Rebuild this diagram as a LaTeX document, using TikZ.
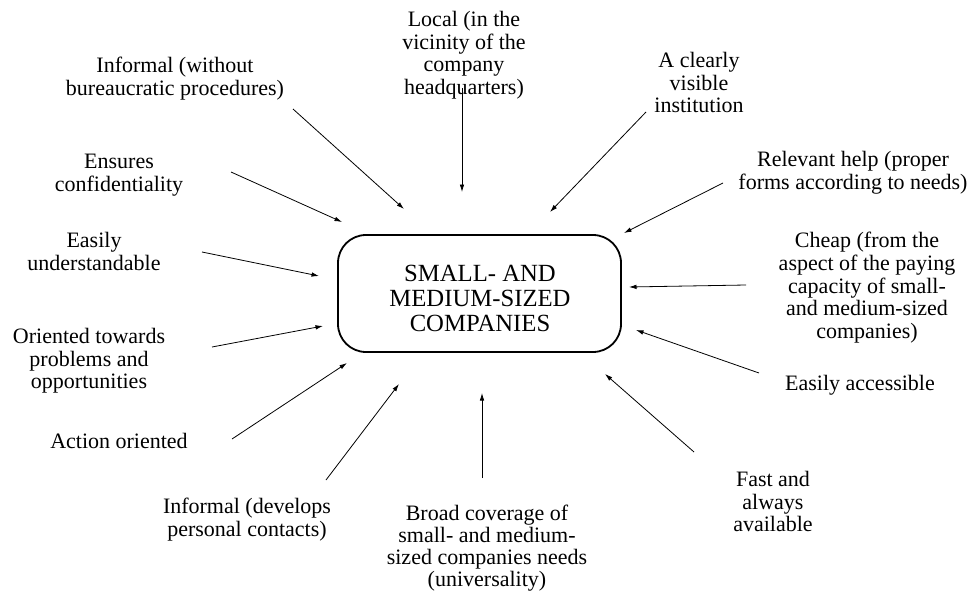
\documentclass[tikz,border=0pt]{standalone}
\usepackage{fontspec}
\setmainfont{Liberation Serif}
\usetikzlibrary{arrows.meta}

\tikzset{
  lbl/.style={font=\fontsize{22}{22.7}\selectfont, align=center, inner sep=0pt,
              anchor=north, execute at begin node=\strut},
  hub/.style={draw, line width=1.8pt, rounded corners=28pt, minimum width=283pt,
              minimum height=117pt, inner sep=0pt},
  hubtext/.style={font=\fontsize{24.7}{25}\selectfont, align=center, inner sep=0pt,
                  anchor=north, execute at begin node=\strut},
  feed/.style={line width=0.8pt, -{Latex[length=7.5pt,width=4.6pt]}}
}

\begin{document}
\begin{tikzpicture}[x=1pt, y=-1pt]
  \useasboundingbox (0,0) rectangle (972,594);

  % central box
  \node[hub] (hub) at (479.5,293.5) {};
  \node[hubtext] (hubt) at (480,264.5) {SMALL- AND\\MEDIUM-SIZED\\COMPANIES};

  % surrounding requirements
  \node[lbl] (informalA) at (175,57)  {Informal (without\\bureaucratic procedures)};
  \node[lbl] (local)     at (464,11)  {Local (in the\\vicinity of the\\company\\headquarters)};
  \node[lbl] (visible)   at (699,52)  {A clearly\\visible\\institution};
  \node[lbl] (relevant)  at (853,151) {Relevant help (proper\\forms according to needs)};
  \node[lbl] (cheap)     at (867,232) {Cheap (from the\\aspect of the paying\\capacity of small-\\and medium-sized\\companies)};
  \node[lbl] (access)    at (860,374) {Easily accessible};
  \node[lbl] (fast)      at (773,471) {Fast and\\always\\available};
  \node[lbl, font=\fontsize{22}{22}\selectfont] (broad) at (487,505)
        {Broad coverage of\\small- and medium-\\sized companies needs\\(universality)};
  \node[lbl] (informalB) at (247,498) {Informal (develops\\personal contacts)};
  \node[lbl] (action)    at (119,432) {Action oriented};
  \node[lbl] (oriented)  at (89,328)  {Oriented towards\\problems and\\opportunities};
  \node[lbl] (underst)   at (94,232)  {Easily\\understandable};
  \node[lbl] (confid)    at (119,154) {Ensures\\confidentiality};

  % arrow ends
  \coordinate (t1)  at (293,109); \coordinate (h1)  at (404,209);
  \coordinate (t2)  at (462,88);  \coordinate (h2)  at (462,192);
  \coordinate (t3)  at (646,112); \coordinate (h3)  at (550,212);
  \coordinate (t4)  at (723,183); \coordinate (h4)  at (624,233);
  \coordinate (t5)  at (746,285); \coordinate (h5)  at (629,287);
  \coordinate (t6)  at (759,373); \coordinate (h6)  at (636,330);
  \coordinate (t7)  at (694,452); \coordinate (h7)  at (605,374);
  \coordinate (t8)  at (482,478); \coordinate (h8)  at (482,393);
  \coordinate (t9)  at (326,480); \coordinate (h9)  at (399,384);
  \coordinate (t10) at (232,439); \coordinate (h10) at (347,363);
  \coordinate (t11) at (212,347); \coordinate (h11) at (323,326);
  \coordinate (t12) at (202,252); \coordinate (h12) at (319,276);
  \coordinate (t13) at (231,172); \coordinate (h13) at (342,222);

  \foreach \i in {1,...,13} {
    \draw[feed] (t\i) -- (h\i);
  }
\end{tikzpicture}
\end{document}
